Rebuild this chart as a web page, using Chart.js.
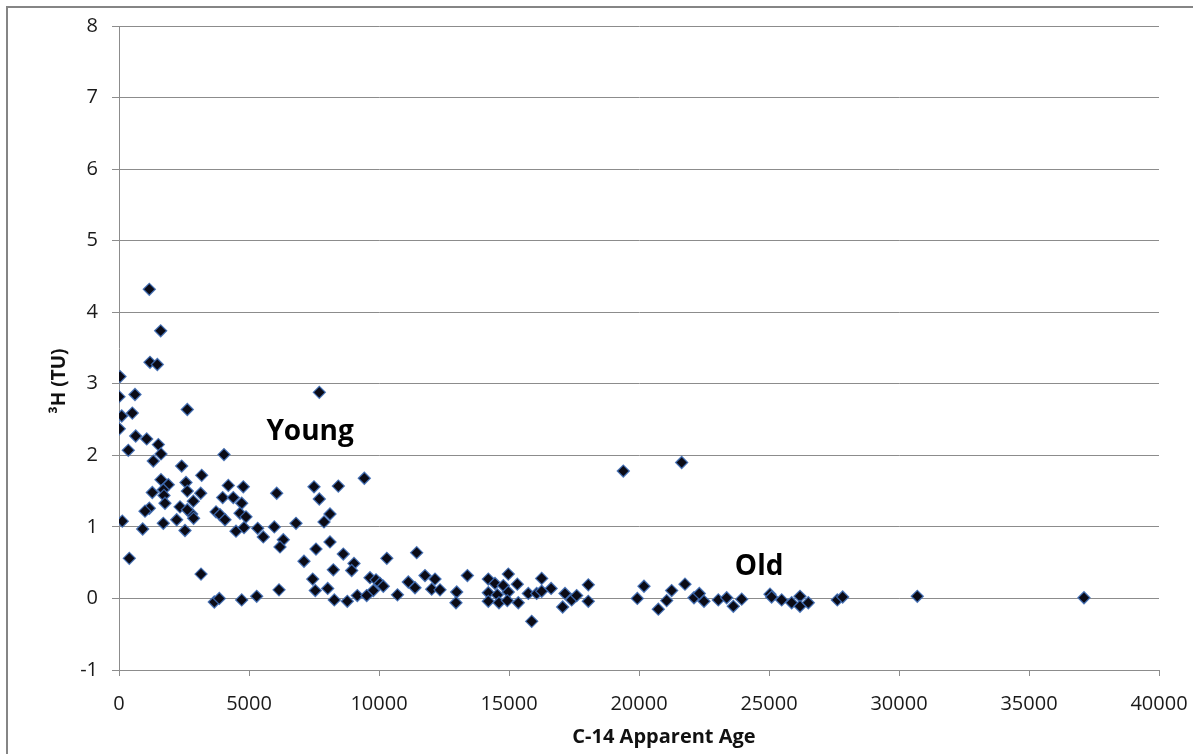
<!DOCTYPE html>
<html>
<head>
<meta charset="utf-8">
<title>Tritium vs C-14 apparent age</title>
<script src="https://cdn.jsdelivr.net/npm/chart.js@4/dist/chart.umd.min.js"></script>
<style>
    html, body { margin: 0; padding: 0; background: #ffffff; }
    #wrap { position: relative; width: 1193px; height: 754px; }
</style>
</head>
<body>
<div id="wrap"><canvas id="age_chart" width="1193" height="754"></canvas></div>
<script>
    "use strict";

    // C-14 apparent age (years) of each sample
    var ageC14 = [
        1166, 1603, 1192, 1474, 38, 0, 615, 2627, 104, 512,
        12, 642, 1065, 1512, 358, 1615, 1319, 4038, 2411, 3180,
        1615, 1897, 2577, 1281, 1704, 1730, 2627, 3142, 4204, 4781,
        3988, 4396, 4719, 1769, 2858, 1166, 1000, 2346, 2796, 2627,
        2869, 3731, 3885, 4077, 4654, 4884, 2219, 1704, 127, 911,
        2538, 4500, 4808, 5334, 396, 3154, 3666, 3858, 4719, 5296,
        7704, 6065, 7500, 8435, 9435, 7704, 8115, 7885, 5550, 5973,
        6808, 6319, 6192, 7577, 8115, 7115, 8627, 9038, 8949, 10300,
        8243, 7450, 9654, 9885, 10038, 10165, 9781, 7550, 8027, 6154,
        8281, 8781, 9166, 9527, 10710, 11449, 11769, 12154, 11128, 11385,
        12026, 12346, 12988, 12961, 13400, 14204, 14461, 14973, 14781, 15320,
        14204, 14550, 14973, 14204, 14615, 14935, 15358, 15743, 16065, 16257,
        15872, 16620, 16257, 17154, 17064, 17410, 17603, 18050, 18050, 19935,
        20192, 20743, 21064, 21256, 21769, 22115, 22320, 22500, 23050, 23372,
        23628, 19396, 21641, 23950, 25038, 25100, 25487, 25872, 26192, 26192,
        26512, 27628, 27833, 30704, 37115
    ];

    // measured tritium (TU), same order as ageC14
    var tritiumTU = [
        4.32, 3.74, 3.30, 3.27, 3.10, 2.82, 2.85, 2.64, 2.55, 2.59,
        2.37, 2.27, 2.23, 2.15, 2.07, 2.02, 1.92, 2.01, 1.85, 1.72,
        1.66, 1.59, 1.62, 1.48, 1.52, 1.44, 1.50, 1.47, 1.58, 1.56,
        1.41, 1.41, 1.33, 1.33, 1.36, 1.26, 1.22, 1.28, 1.18, 1.24,
        1.12, 1.21, 1.17, 1.10, 1.19, 1.14, 1.10, 1.05, 1.08, 0.97,
        0.95, 0.94, 0.99, 0.98, 0.56, 0.34, -0.05, 0.00, -0.02, 0.03,
        2.88, 1.47, 1.56, 1.57, 1.68, 1.39, 1.18, 1.07, 0.86, 1.00,
        1.05, 0.82, 0.72, 0.69, 0.79, 0.52, 0.62, 0.49, 0.39, 0.56,
        0.40, 0.27, 0.29, 0.26, 0.21, 0.17, 0.11, 0.11, 0.14, 0.12,
        -0.02, -0.04, 0.04, 0.04, 0.05, 0.64, 0.32, 0.27, 0.23, 0.15,
        0.13, 0.12, 0.09, -0.06, 0.32, 0.27, 0.21, 0.34, 0.18, 0.20,
        0.08, 0.05, 0.09, -0.04, -0.06, -0.03, -0.06, 0.07, 0.07, 0.28,
        -0.32, 0.14, 0.10, 0.07, -0.12, -0.02, 0.04, 0.19, -0.04, 0.00,
        0.17, -0.15, -0.03, 0.11, 0.20, 0.01, 0.07, -0.04, -0.02, 0.01,
        -0.11, 1.78, 1.90, -0.01, 0.06, 0.02, -0.02, -0.06, 0.03, -0.11,
        -0.06, -0.02, 0.02, 0.03, 0.01
    ];

    var xTickValues = [0, 5000, 10000, 15000, 20000, 25000, 30000, 35000, 40000];
    var yTickValues = [-1, 0, 1, 2, 3, 4, 5, 6, 7, 8];

    var xAxisTitle = "C-14 Apparent Age";
    var yAxisTitle = "³H (TU)";

    // text notes placed on the plot, in data units
    var noteLabels = ["Young", "Old"];
    var noteAge = [7350, 24620];
    var noteTU = [2.32, 0.44];

    var FONT = "'Open Sans', 'DejaVu Sans', sans-serif";
    var GRID = "#8c8c8c";

    var points = ageC14.map(function (age, i) {
        return {x: age, y: tritiumTU[i]};
    });

    var fixedTicks = function (values) {
        return function (scale) {
            scale.ticks = values.map(function (v) {
                return {value: v};
            });
        };
    };

    // outer frame of the chart object
    var framePlugin = {
        id: "frame",
        beforeDraw: function (chart) {
            var ctx = chart.ctx;
            ctx.save();
            ctx.strokeStyle = "#858585";
            ctx.lineWidth = 2;
            ctx.beginPath();
            ctx.moveTo(7, chart.height);
            ctx.lineTo(7, 7);
            ctx.lineTo(chart.width, 7);
            ctx.stroke();
            ctx.restore();
        },
    };

    // axis titles sit a bit off the plot centre, so they are drawn by hand
    var axisTitlePlugin = {
        id: "axisTitles",
        afterDraw: function (chart) {
            var ctx = chart.ctx;
            var area = chart.chartArea;
            ctx.save();
            ctx.fillStyle = "#111111";
            ctx.textAlign = "center";
            ctx.textBaseline = "middle";
            ctx.font = "bold 20px " + FONT;
            ctx.fillText(xAxisTitle, (area.left + area.right) / 2 + 25, 737);
            ctx.translate(60, 381);
            ctx.rotate(-Math.PI / 2);
            ctx.font = "bold 19px " + FONT;
            ctx.fillText(yAxisTitle, 0, 0);
            ctx.restore();
        },
    };

    var notesPlugin = {
        id: "notes",
        afterDatasetsDraw: function (chart) {
            var ctx = chart.ctx;
            var xs = chart.scales.x;
            var ys = chart.scales.y;
            ctx.save();
            ctx.font = "bold 28px " + FONT;
            ctx.fillStyle = "#000000";
            ctx.textAlign = "center";
            ctx.textBaseline = "middle";
            noteLabels.forEach(function (label, i) {
                ctx.fillText(label, xs.getPixelForValue(noteAge[i]), ys.getPixelForValue(noteTU[i]));
            });
            ctx.restore();
        },
    };

    new Chart(document.getElementById("age_chart"), {
        type: "scatter",
        data: {
            datasets: [
                {
                    label: "3H",
                    data: points,
                    pointStyle: "rectRot",
                    pointRadius: 6,
                    pointHoverRadius: 6,
                    backgroundColor: "#0b0b16",
                    borderColor: "rgba(62, 108, 180, 0.9)",
                    borderWidth: 1.3,
                },
            ],
        },
        options: {
            responsive: false,
            animation: false,
            layout: {
                padding: {left: 0, top: 24, right: 34, bottom: 0},
            },
            plugins: {
                legend: {display: false},
                tooltip: {enabled: false},
            },
            scales: {
                x: {
                    type: "linear",
                    min: 0,
                    max: 40000,
                    afterBuildTicks: fixedTicks(xTickValues),
                    afterFit: function (scale) {
                        scale.height = 84;
                        // plot edges come from layout padding only
                        scale.paddingLeft = 0;
                        scale.paddingRight = 0;
                    },
                    grid: {
                        drawOnChartArea: false,
                        drawTicks: true,
                        tickLength: 6,
                        color: GRID,
                    },
                    border: {color: GRID, width: 1},
                    ticks: {
                        padding: 16,
                        color: "#1a1a1a",
                        font: {family: FONT, size: 20},
                        maxRotation: 0,
                        callback: function (value) {
                            return String(value);
                        },
                    },
                },
                y: {
                    type: "linear",
                    min: -1,
                    max: 8,
                    afterBuildTicks: fixedTicks(yTickValues),
                    afterFit: function (scale) {
                        scale.width = 119;
                    },
                    grid: {
                        drawTicks: true,
                        tickLength: 7,
                        color: GRID,
                        lineWidth: 1,
                    },
                    border: {color: GRID, width: 1},
                    ticks: {
                        padding: 14,
                        color: "#1a1a1a",
                        font: {family: FONT, size: 20},
                    },
                },
            },
        },
        plugins: [framePlugin, axisTitlePlugin, notesPlugin],
    });
</script>
</body>
</html>
